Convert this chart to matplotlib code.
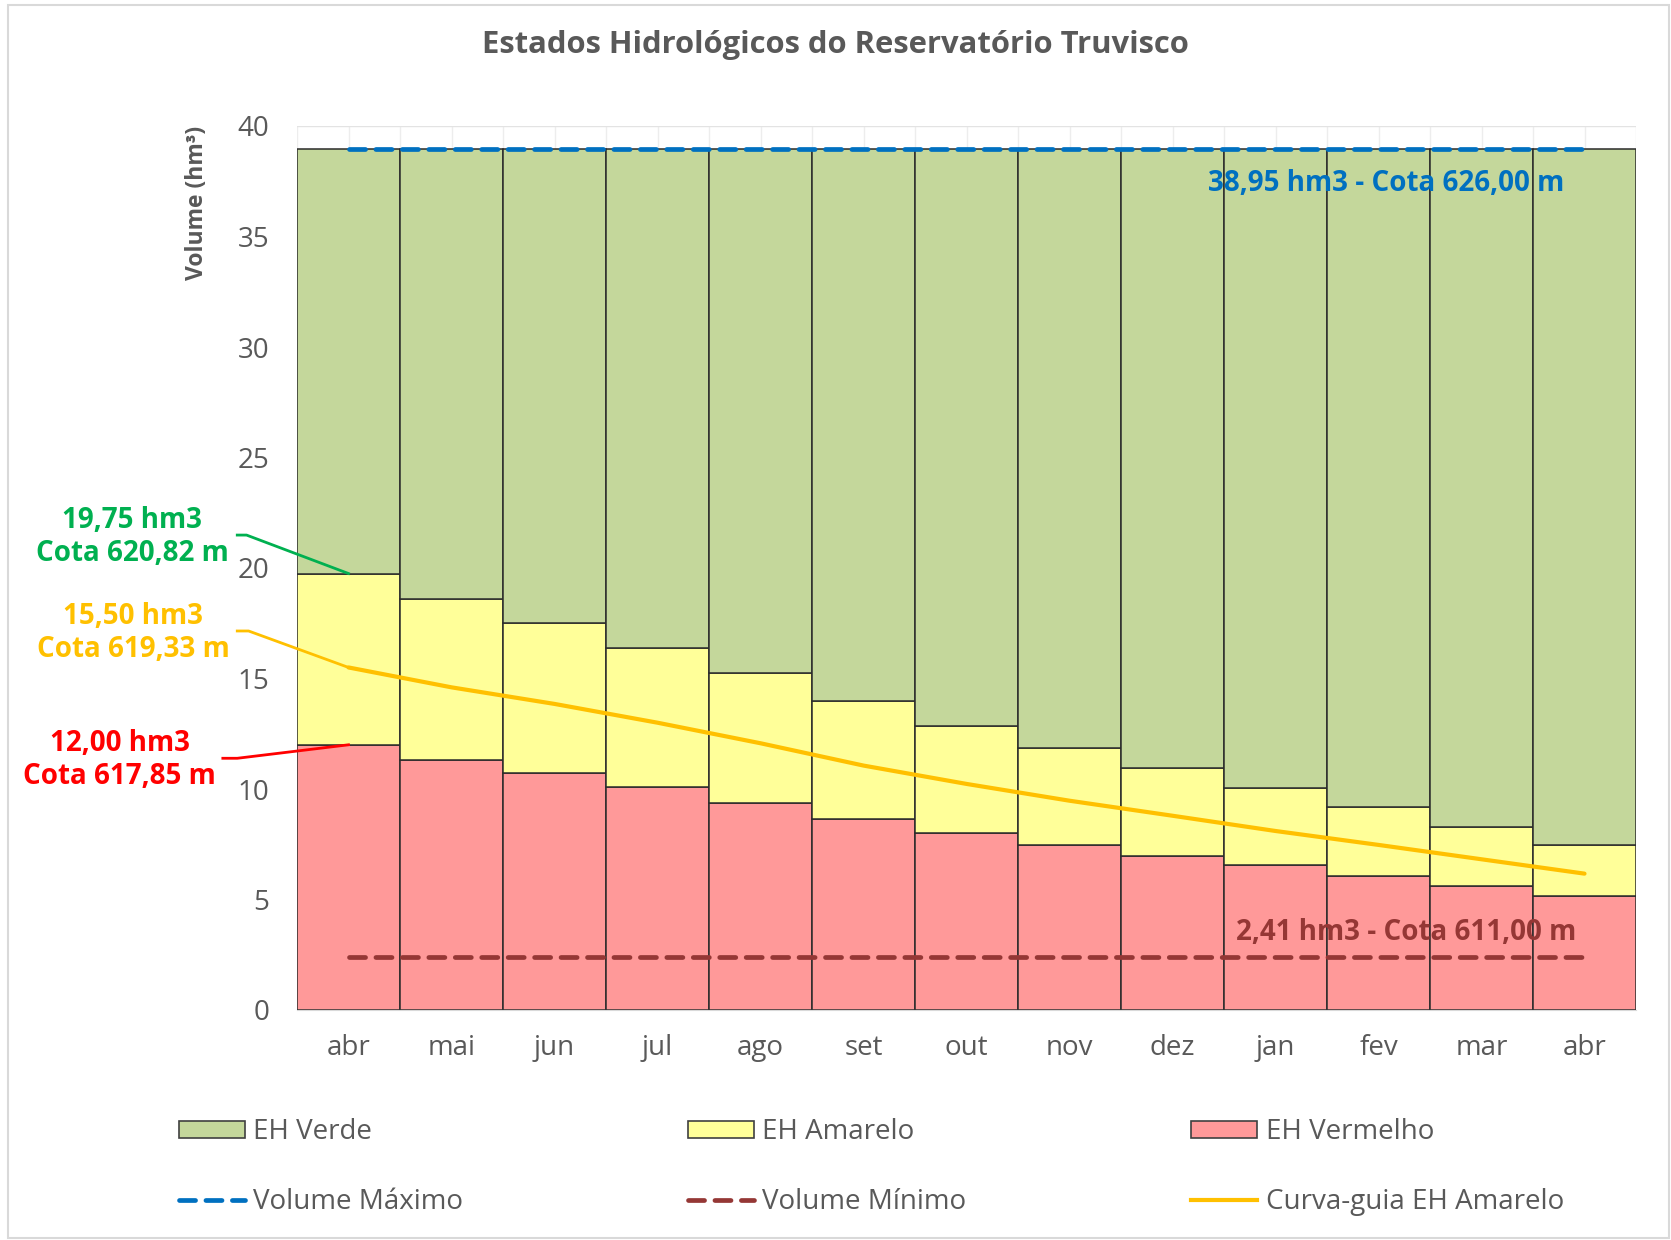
import matplotlib
matplotlib.use("Agg")
import matplotlib.pyplot as plt
from matplotlib.patches import Patch, Rectangle
from matplotlib.lines import Line2D
import numpy as np

plt.rcParams['font.family'] = ['Open Sans', 'DejaVu Sans']

# ---- data ----
months = ['abr', 'mai', 'jun', 'jul', 'ago', 'set', 'out', 'nov', 'dez', 'jan', 'fev', 'mar', 'abr']
vermelho_top = [12.00, 11.33, 10.74, 10.11, 9.37, 8.66, 8.02, 7.47, 6.98, 6.55, 6.06, 5.61, 5.17]
amarelo_top = [19.75, 18.61, 17.53, 16.40, 15.23, 13.97, 12.84, 11.87, 10.94, 10.06, 9.17, 8.29, 7.45]
curva_guia = [15.50, 14.60, 13.85, 13.00, 12.07, 11.06, 10.23, 9.47, 8.79, 8.10, 7.47, 6.82, 6.17]
volume_maximo = 38.95
volume_minimo = 2.41
yticks = [0, 5, 10, 15, 20, 25, 30, 35, 40]

title = 'Estados Hidrológicos do Reservatório Truvisco'
label_max = '38,95 hm3 - Cota 626,00 m'
label_min = '2,41 hm3 - Cota 611,00 m'
label_verde = '19,75 hm3\nCota 620,82 m'
label_amarelo = '15,50 hm3\nCota 619,33 m'
label_vermelho = '12,00 hm3\nCota 617,85 m'

# ---- styles ----
C_VERDE = '#C4D79B'
C_AMAR = '#FFFF99'
C_VERM = '#FF9999'
C_MAX = '#0070C0'
C_MIN = '#953735'
C_CURVA = '#FFC000'
C_TXT = '#595959'
FS = 20

W, H = 1671, 1240
fig = plt.figure(figsize=(W / 100, H / 100), dpi=100)
fig.patches.append(Rectangle((0.005, 0.002), 0.994, 0.994, transform=fig.transFigure,
                             facecolor='none', edgecolor='#D9D9D9', lw=1.5))

ax = fig.add_axes([297 / W, 1 - 1010 / H, (1636 - 297) / W, (1010 - 126) / H])

x = np.arange(len(months))
verm = np.array(vermelho_top)
amar = np.array(amarelo_top)
h_verm = verm
h_amar = amar - verm
h_verde = volume_maximo - amar

edge = dict(edgecolor='#2b2b2b', linewidth=1.1, width=1.0, zorder=2)
ax.bar(x, h_verm, color=C_VERM, **edge)
ax.bar(x, h_amar, bottom=verm, color=C_AMAR, **edge)
ax.bar(x, h_verde, bottom=amar, color=C_VERDE, **edge)

DASH = (3.4, 2.2)
lmax, = ax.plot([x[0], x[-1]], [volume_maximo, volume_maximo], color=C_MAX, lw=3.4,
                dash_capstyle='round', zorder=4)
lmax.set_dashes(DASH)
lmin, = ax.plot([x[0], x[-1]], [volume_minimo, volume_minimo], color=C_MIN, lw=3.4,
                dash_capstyle='round', zorder=4)
lmin.set_dashes(DASH)
ax.plot(x, curva_guia, color=C_CURVA, lw=3.0, zorder=4, solid_capstyle='round')

ax.set_xlim(-0.5, len(months) - 0.5)
ax.set_ylim(0, 40)
ax.set_yticks(yticks)
ax.set_xticks(x)
ax.set_xticklabels(months)
ax.set_xticks(np.arange(-0.5, len(months) + 0.5, 1), minor=True)
ax.tick_params(axis='both', which='both', length=0, colors=C_TXT, labelsize=FS)
ax.tick_params(axis='y', pad=20)
ax.tick_params(axis='x', pad=17)
for s in ['left', 'right', 'top']:
    ax.spines[s].set_visible(False)
ax.spines['bottom'].set_color('#D9D9D9')
ax.grid(True, axis='y', color='#E3E3E3', lw=1.0, zorder=0)
ax.grid(True, axis='x', which='both', color='#EDEDED', lw=1.0, zorder=0)
ax.set_axisbelow(True)

ax.text(-0.0746, 1.0, 'Volume (hm³)', rotation=90, ha='center', va='top',
        transform=ax.transAxes, fontsize=16.5, fontweight='bold', color=C_TXT)

fig.text(0.5, 1 - 45 / H, title, ha='center', va='center', fontsize=22.3,
         fontweight='bold', color=C_TXT)

# reference labels
ax.text(11.80, 37.40, label_max, ha='right', va='center', fontsize=FS,
        fontweight='bold', color=C_MAX, zorder=5)
ax.text(11.92, 3.52, label_min, ha='right', va='center', fontsize=FS,
        fontweight='bold', color=C_MIN, zorder=5)

# left annotations
ann = dict(ha='center', va='center', fontsize=FS, fontweight='bold', linespacing=1.18,
           clip_on=False)
ax.text(-2.10, 21.40, label_verde, color='#00B050', **ann)
ax.plot([-1.08, -0.99, 0], [21.49, 21.49, amarelo_top[0]], color='#00B050', lw=2.0,
        clip_on=False, zorder=5)
ax.text(-2.09, 17.08, label_amarelo, color=C_CURVA, **ann)
ax.plot([-1.08, -0.97, 0], [17.15, 17.15, curva_guia[0]], color=C_CURVA, lw=2.0,
        clip_on=False, zorder=5)
ax.text(-2.22, 11.31, label_vermelho, color='#FF0000', **ann)
ax.plot([-1.22, -1.08, 0], [11.39, 11.39, vermelho_top[0]], color='#FF0000', lw=2.0,
        clip_on=False, zorder=5)

# legend
hv = Patch(facecolor=C_VERDE, edgecolor='#404040', lw=1.2)
ha_ = Patch(facecolor=C_AMAR, edgecolor='#404040', lw=1.2)
hr = Patch(facecolor=C_VERM, edgecolor='#404040', lw=1.2)
hmax = Line2D([], [], color=C_MAX, lw=3.4, dash_capstyle='round')
hmax.set_dashes(DASH)
hmin = Line2D([], [], color=C_MIN, lw=3.4, dash_capstyle='round')
hmin.set_dashes(DASH)
hc = Line2D([], [], color=C_CURVA, lw=3.0)
handles = [hv, hmax, ha_, hmin, hr, hc]
labels = ['EH Verde', 'Volume Máximo', 'EH Amarelo', 'Volume Mínimo', 'EH Vermelho',
          'Curva-guia EH Amarelo']
leg = fig.legend(handles, labels, ncol=3, loc='upper left', bbox_to_anchor=(179 / W, 1 - 1118 / H),
                 frameon=False, fontsize=FS, handlelength=2.37, handleheight=0.55,
                 handletextpad=0.3, columnspacing=8.1, labelspacing=1.5,
                 borderpad=0, borderaxespad=0)
for t in leg.get_texts():
    t.set_color(C_TXT)

fig.savefig('out.png', dpi=100)
